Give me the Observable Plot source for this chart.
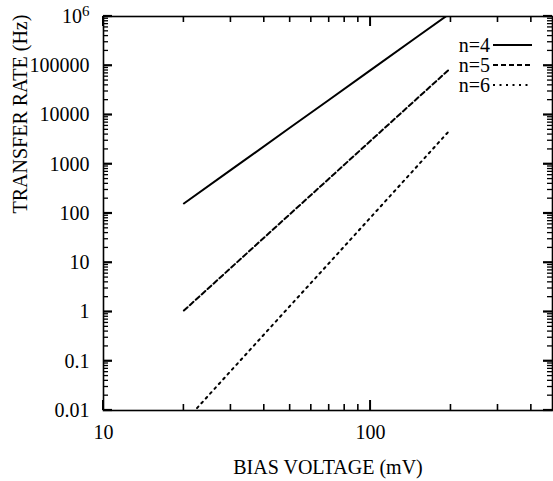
<!DOCTYPE html>
<html>
<head>
<meta charset="utf-8">
<script src="https://cdn.jsdelivr.net/npm/d3@7"></script>
<script src="https://cdn.jsdelivr.net/npm/@observablehq/plot@0.6"></script>
<style>
  html, body { margin: 0; padding: 0; background: #fff; }
  #chart { width: 553px; height: 481px; }
  svg, svg text { font-family: "Liberation Serif", "Times New Roman", serif !important; }
</style>
</head>
<body>
<div id="chart"></div>
<script>
// ---- data ----
const voltage = [20, 30, 50, 70, 100, 150, 195];            // mV
const rateN4  = [160, 768, 5560, 20400, 81500, 392000, 1080000];
const rateN5  = [1.07, 7.9, 98, 515, 2990, 22100, 80100];
const rateN6  = [0.0057, 0.064, 1.34, 9.9, 83, 933, 4480];
const seriesNames = ["n=4", "n=5", "n=6"];
const seriesDash  = [null, "5,3", "2,4.5"];

const xMajorTicks = [10, 100];
const xTickLabels = ["10", "100"];
const yMajorTicks = [0.01, 0.1, 1, 10, 100, 1000, 10000, 100000, 1000000];
const yTickLabels = ["0.01", "0.1", "1", "10", "100", "1000", "10000", "100000", "10^6"];

const xLabel = "BIAS VOLTAGE (mV)";
const yLabel = "TRANSFER RATE (Hz)";

const xMinor = [];
for (const d of [10, 100]) for (let k = 2; k <= 9; k++) if (d * k <= 480) xMinor.push(d * k);
const yMinor = [];
for (let e = -2; e < 6; e++) for (let k = 2; k <= 9; k++) yMinor.push(k * Math.pow(10, e));

const rows = [];
[rateN4, rateN5, rateN6].forEach((vals, i) => {
  vals.forEach((v, j) => rows.push({series: seriesNames[i], v: voltage[j], rate: v}));
});

const W = 553, H = 481, mT = 16, mB = 71, mL = 103, mR = 1;
const font = 20;

const lineMarks = seriesNames.map((name, i) =>
  Plot.line(rows.filter(r => r.series === name), {
    x: "v", y: "rate", stroke: "black", strokeWidth: 2,
    strokeDasharray: seriesDash[i] || undefined, clip: true
  })
);

const chart = Plot.plot({
  width: W, height: H,
  marginTop: mT, marginBottom: mB, marginLeft: mL, marginRight: mR,
  style: {fontFamily: "'Liberation Serif', 'Times New Roman', serif", fontSize: font + "px", color: "black", background: "white"},
  x: {type: "log", domain: [10, 480]},
  y: {type: "log", domain: [0.01, 1e6]},
  marks: [
    ...lineMarks,
    Plot.axisX({anchor: "bottom", ticks: xMajorTicks, tickSize: 0, tickPadding: 14, label: null,
      tickFormat: (d) => xTickLabels[xMajorTicks.indexOf(d)], fontSize: font}),
    Plot.axisY({anchor: "left", ticks: yMajorTicks, tickSize: 0, tickPadding: 14, label: null,
      tickFormat: (d) => yTickLabels[yMajorTicks.indexOf(d)], fontSize: font}),
    Plot.frame({stroke: "black", strokeWidth: 1.6}),
    Plot.text([xLabel], {text: d => d, frameAnchor: "bottom", dy: 57, lineAnchor: "middle", fontSize: font, fill: "black"}),
    Plot.text([yLabel], {text: d => d, frameAnchor: "left", dx: -83, rotate: -90, lineAnchor: "middle", fontSize: font, fill: "black"})
  ]
});

document.getElementById("chart").appendChild(chart);
const svg = d3.select(chart);
const sx = chart.scale("x"), sy = chart.scale("y");
const x0 = mL, x1 = W - mR, y0 = mT, y1 = H - mB;

// inward ticks on all four sides, placed with Plot's own scales
const tg = svg.append("g");
function seg(ax, ay, bx, by, w) {
  tg.append("path").attr("d", `M${ax},${ay}L${bx},${by}`)
    .attr("stroke", "black").attr("stroke-width", w).attr("fill", "none");
}
function xt(vals, len, w) {
  vals.forEach(v => {
    const px = sx.apply(v);
    seg(px, y1, px, y1 - len, w);
    seg(px, y0, px, y0 + len, w);
  });
}
function yt(vals, len, w) {
  vals.forEach(v => {
    const py = sy.apply(v);
    seg(x0, py, x0 + len, py, w);
    seg(x1, py, x1 - len, py, w);
  });
}
xt(xMajorTicks, 10, 2); xt(xMinor, 6, 1.6);
yt(yMajorTicks, 9, 2.2); yt(yMinor, 5, 1.3);

// superscript for 10^6
svg.selectAll("text").each(function() {
  const t = d3.select(this);
  if (t.text() === "10^6") {
    t.text("10");
    t.append("tspan").attr("dy", "-0.45em").attr("font-size", "15px").text("6");
  }
});

// legend rows
const legend = svg.append("g");
const legX = 490, legY0 = 45, legStep = 20;
seriesNames.forEach((name, i) => {
  const y = legY0 + i * legStep;
  legend.append("text").attr("x", legX).attr("y", y).attr("dy", "0.35em")
    .attr("text-anchor", "end").attr("font-size", font + "px").attr("fill", "black").text(name);
  legend.append("line").attr("x1", legX + 3).attr("x2", legX + 42).attr("y1", y).attr("y2", y)
    .attr("stroke", "black").attr("stroke-width", 2)
    .attr("stroke-dasharray", seriesDash[i]);
});
</script>
</body>
</html>
